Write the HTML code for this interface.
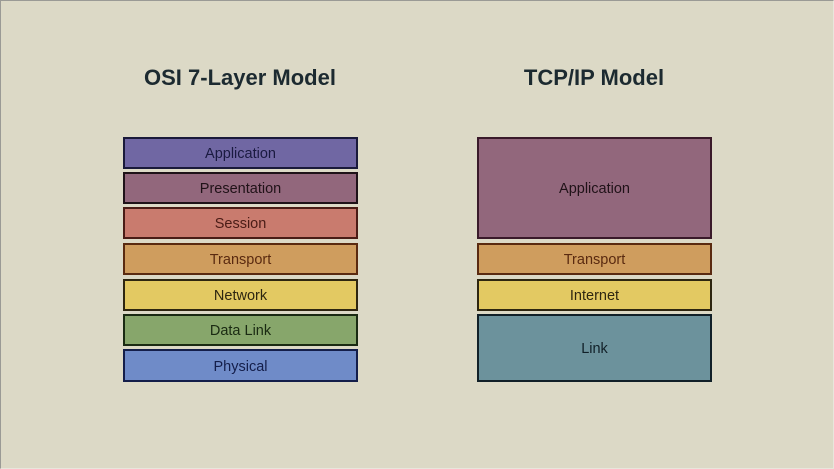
<!DOCTYPE html>
<html><head><meta charset="utf-8"><style>
html,body{margin:0;padding:0}
body{width:834px;height:469px;background:#dcd9c6;position:relative;overflow:hidden;font-family:"Liberation Sans",sans-serif;}
.frame{position:absolute;left:0;top:0;width:832px;height:467px;border:1px solid #9a9a95;border-right-color:#e8e6dc;border-bottom-color:#e8e6dc;}
.t{position:absolute;width:300px;text-align:center;font-weight:bold;font-size:22px;color:#1c2a30;top:65px}
.b{position:absolute;box-sizing:border-box;border:2.5px solid;display:flex;align-items:center;justify-content:center;font-size:14.5px;width:235px;padding-top:2px}
</style></head><body>
<div class="frame"></div>
<div class="t" style="left:90px">OSI 7-Layer Model</div>
<div class="t" style="left:444px">TCP/IP Model</div>

<div class="b" style="left:123px;top:137px;height:32px;background:#7067a3;border-color:#1a1a3a;color:#1a1a40">Application</div>
<div class="b" style="left:123px;top:172px;height:32px;background:#92677c;border-color:#1e1218;color:#201218">Presentation</div>
<div class="b" style="left:123px;top:207px;height:32px;background:#c97b6e;border-color:#4a1c16;color:#4a1c16">Session</div>
<div class="b" style="left:123px;top:243px;height:32px;background:#cf9d5e;border-color:#5a2a10;color:#5a2a10">Transport</div>
<div class="b" style="left:123px;top:279px;height:32px;background:#e3c962;border-color:#2e2610;color:#2e2610">Network</div>
<div class="b" style="left:123px;top:314px;height:32px;background:#87a66b;border-color:#1a2a12;color:#1a2a12">Data Link</div>
<div class="b" style="left:123px;top:349px;height:33px;background:#6f8bc8;border-color:#141e4a;color:#141e4a">Physical</div>

<div class="b" style="left:477px;top:137px;height:102px;background:#92677c;border-color:#3a1a2a;color:#201218">Application</div>
<div class="b" style="left:477px;top:243px;height:32px;background:#cf9d5e;border-color:#5a2a10;color:#5a2a10">Transport</div>
<div class="b" style="left:477px;top:279px;height:32px;background:#e3c962;border-color:#2e2610;color:#2e2610">Internet</div>
<div class="b" style="left:477px;top:314px;height:68px;background:#6c929c;border-color:#112028;color:#112028">Link</div>
</body></html>
